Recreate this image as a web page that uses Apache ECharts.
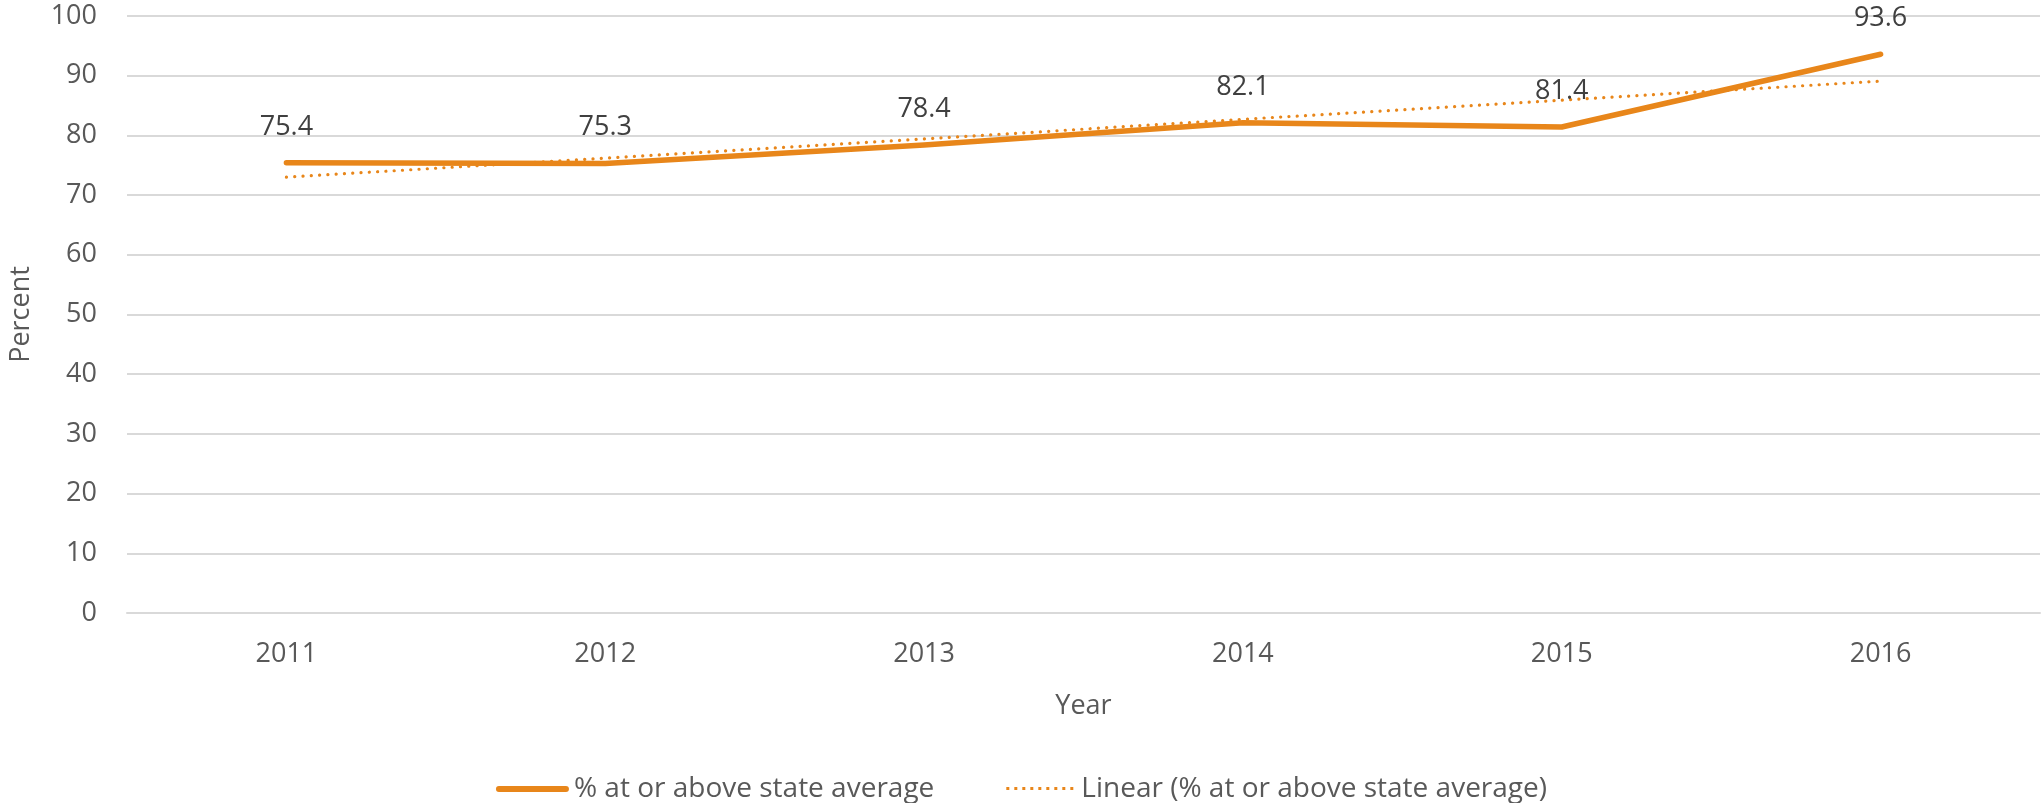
<!DOCTYPE html>
<html lang="en">
<head>
    <meta charset="UTF-8">
    <title>Percent at or above state average</title>
    <script src="https://cdn.jsdelivr.net/npm/echarts@6/dist/echarts.min.js"></script>
    <style>
        html, body { margin: 0; padding: 0; background: #fff; }
        #chart { width: 2043px; height: 803px; }
    </style>
</head>
<body>
<div id="chart"></div>
<script type="text/javascript">
    // 年份
    var years = ['2011', '2012', '2013', '2014', '2015', '2016'];
    // % at or above state average
    var pctValues = [75.4, 75.3, 78.4, 82.1, 81.4, 93.6];
    // 线性趋势线
    var trendValues = [73.0, 76.2, 79.4, 82.7, 85.9, 89.1];

    var orange = '#E8861A';
    var fontFamily = '"Open Sans", "Noto Sans", sans-serif';

    // 图例图标：实线 / 点线
    var solidIcon = 'path://M3,0L70,0A3,3,0,0,1,70,6L3,6A3,3,0,0,1,3,0Z';
    var dotIcon = 'path://';
    for (var i = 0; i < 9; i++) {
        var x = i * 8;
        dotIcon += 'M' + x + ',1L' + (x + 3) + ',1L' + (x + 3) + ',4L' + x + ',4Z';
    }
    dotIcon += 'M0,0L0.01,0M67,6L67.01,6';

    var chart = echarts.init(document.getElementById('chart'));
    var option = {
        backgroundColor: '#ffffff',
        animation: false,
        textStyle: { fontFamily: fontFamily },
        grid: {
            left: 125,
            right: 3,
            top: 16,
            bottom: 190
        },
        legend: {
            top: 770,
            left: 'center',
            itemWidth: 73,
            itemHeight: 6,
            itemGap: 72,
            textStyle: {
                fontSize: 28,
                color: '#595959',
                fontFamily: fontFamily
            },
            data: [
                { name: '% at or above state average', icon: solidIcon },
                { name: 'Linear (% at or above state average)', icon: dotIcon }
            ]
        },
        xAxis: {
            type: 'category',
            data: years,
            name: 'Year',
            nameLocation: 'middle',
            nameGap: 80,
            nameTextStyle: { fontSize: 27, color: '#595959' },
            axisLine: { lineStyle: { color: '#d9d9d9', width: 2 } },
            axisTick: { show: false },
            axisLabel: { fontSize: 27, color: '#595959', margin: 28 }
        },
        yAxis: {
            type: 'value',
            min: 0,
            max: 100,
            interval: 10,
            name: 'Percent',
            nameLocation: 'middle',
            nameGap: 92,
            nameTextStyle: { fontSize: 27, color: '#595959' },
            axisLine: { show: false },
            axisTick: { show: false },
            axisLabel: { fontSize: 27, color: '#595959', margin: 30 },
            splitLine: { lineStyle: { color: '#d9d9d9', width: 2 } }
        },
        series: [
            {
                name: '% at or above state average',
                type: 'line',
                data: pctValues,
                symbol: 'circle',
                symbolSize: 1,
                showSymbol: true,
                lineStyle: { color: orange, width: 5.5, cap: 'round', join: 'round' },
                itemStyle: { color: orange },
                label: {
                    show: true,
                    position: 'top',
                    distance: 22,
                    fontSize: 27,
                    color: '#404040',
                    formatter: function (p) { return p.value.toFixed(1); }
                },
                z: 3
            },
            {
                name: 'Linear (% at or above state average)',
                type: 'line',
                data: trendValues,
                symbol: 'none',
                lineStyle: { color: orange, width: 3.2, type: [0.1, 8.2], cap: 'round' },
                itemStyle: { color: orange },
                z: 2
            }
        ]
    };
    chart.setOption(option);
</script>
</body>
</html>
